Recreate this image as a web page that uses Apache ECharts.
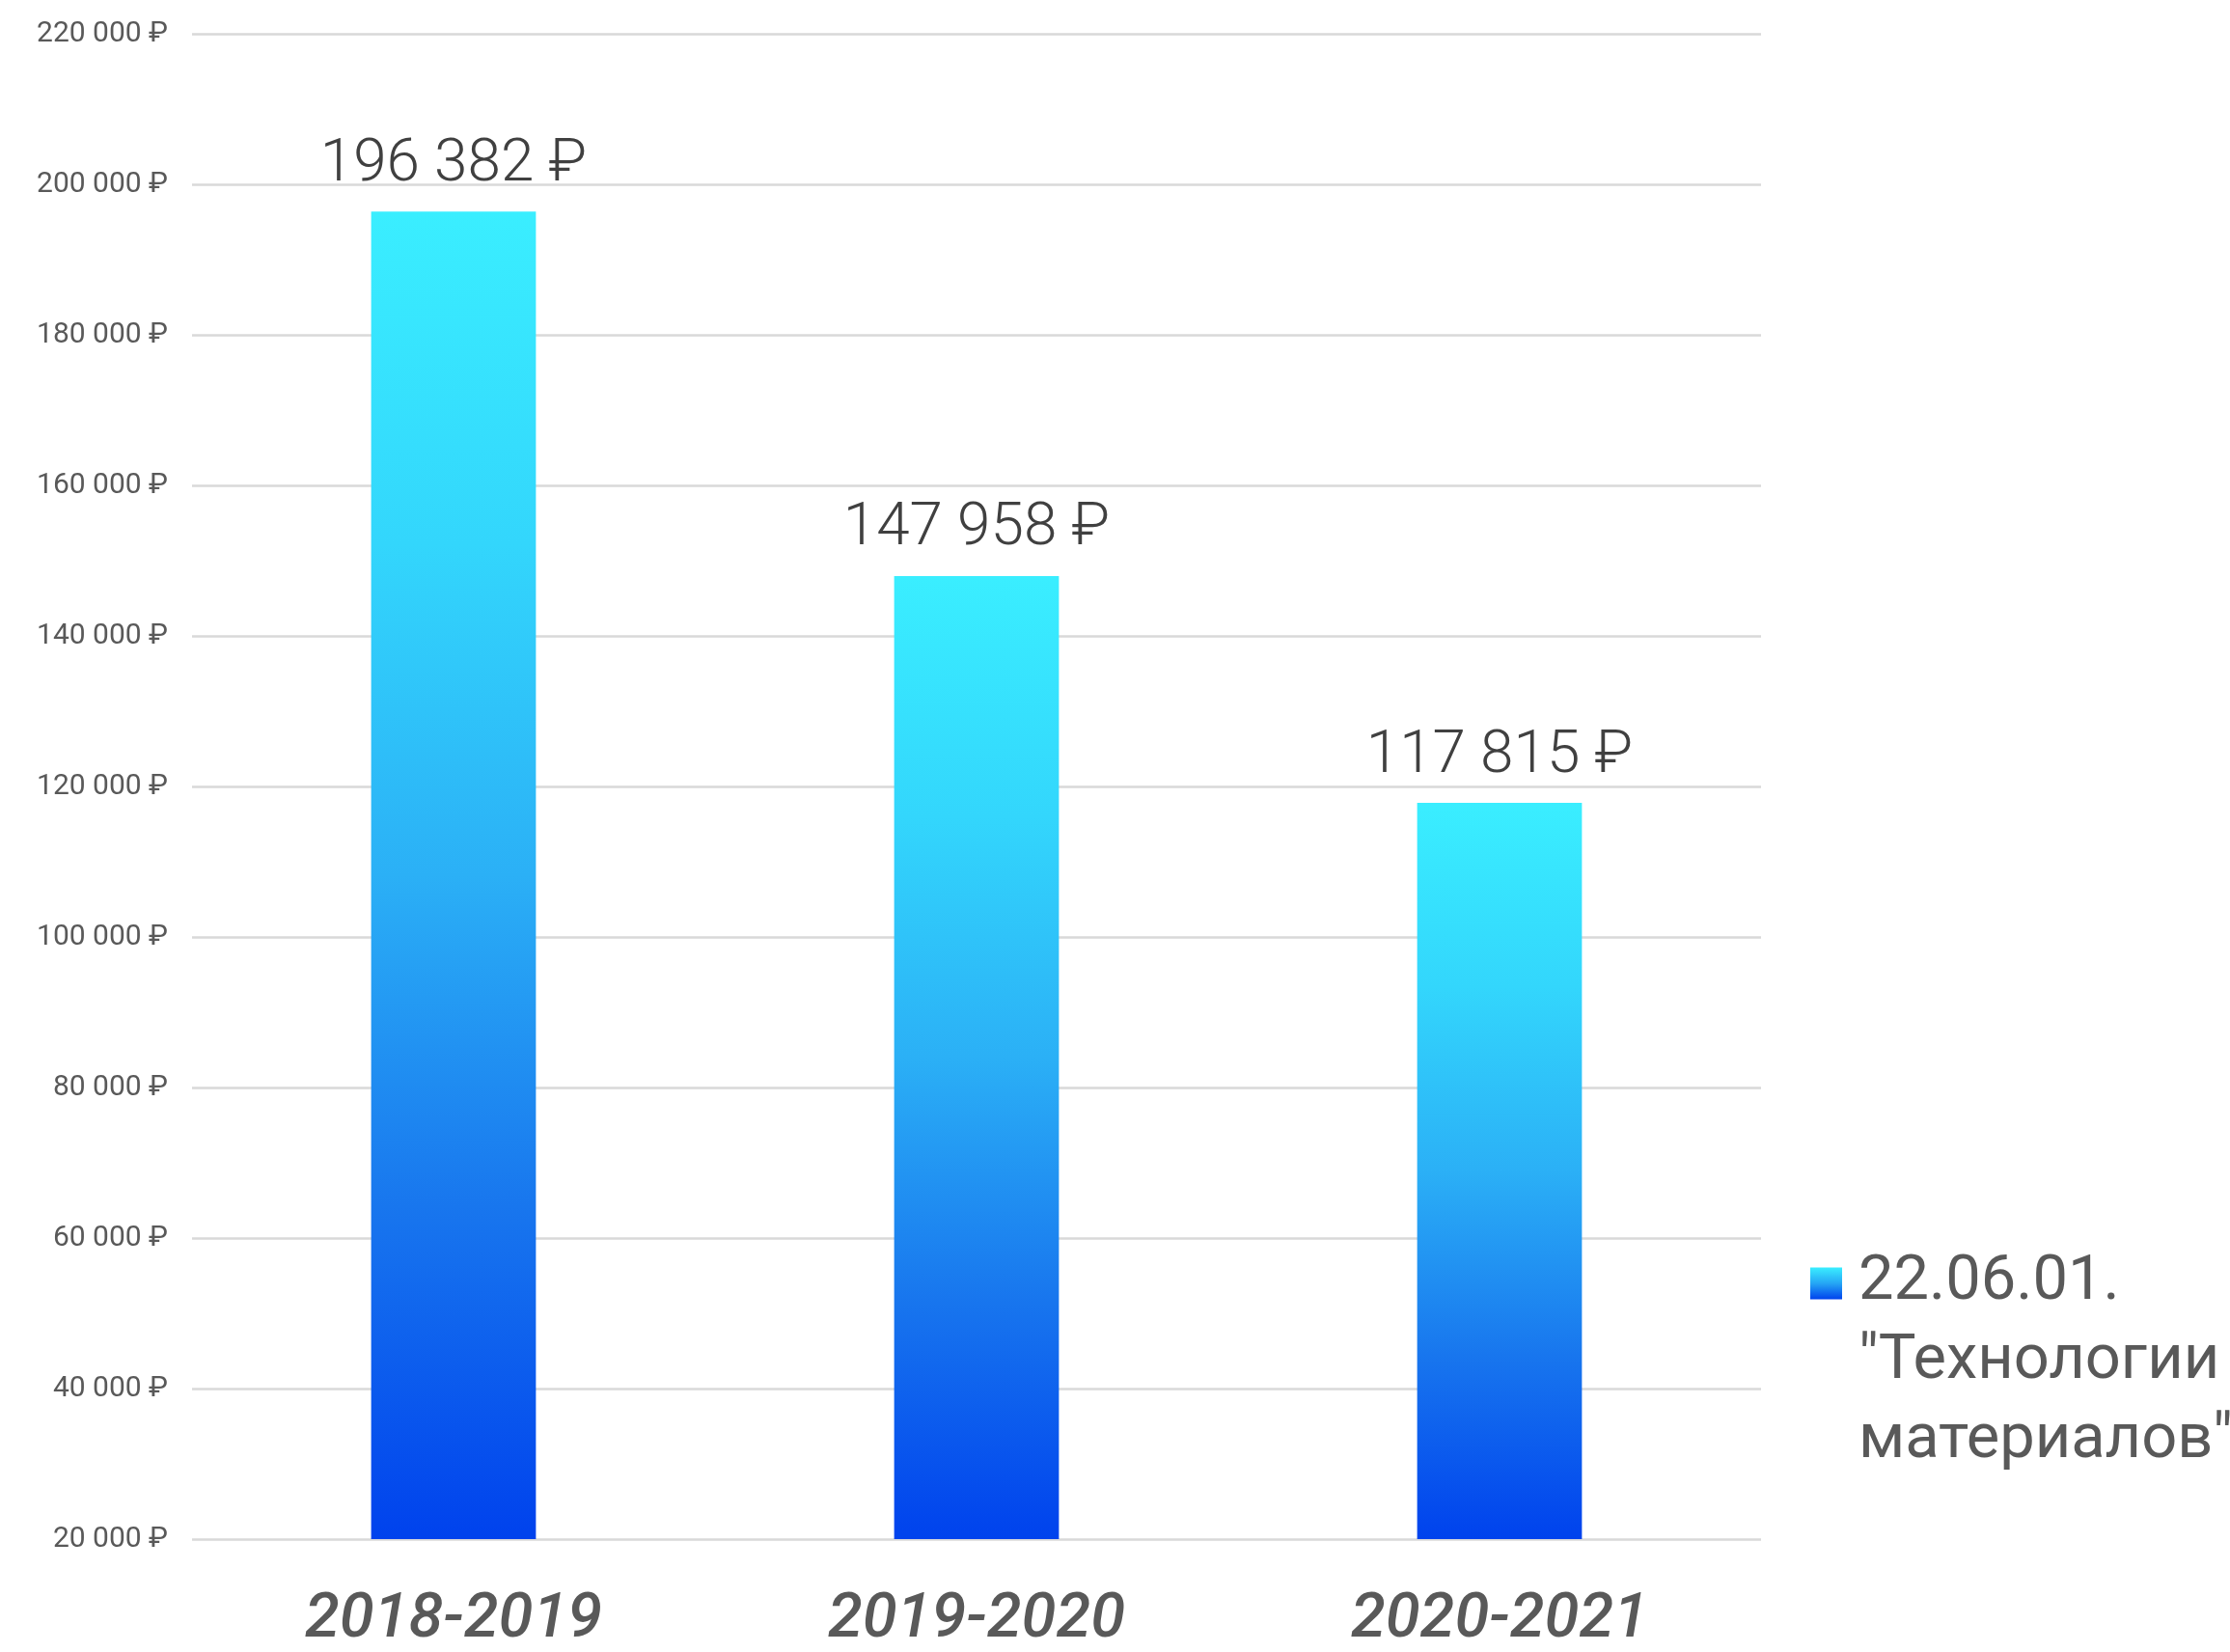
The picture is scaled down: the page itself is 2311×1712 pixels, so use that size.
<!DOCTYPE html>
<html>
<head>
<meta charset="utf-8">
<script src="https://cdn.jsdelivr.net/npm/echarts@6/dist/echarts.min.js"></script>
<style>
html,body{margin:0;padding:0;background:#fff;}
#chart{width:2311px;height:1712px;}
</style>
</head>
<body>
<div id="chart"></div>
<script>
const categories = ['2018-2019', '2019-2020', '2020-2021'];
const seriesName = '22.06.01. "Технологии материалов"';
const values = [196382, 147958, 117815];
const yMin = 20000;
const yMax = 220000;
const yStep = 20000;

function fmt(v) {
  return String(Math.round(v)).replace(/\B(?=(\d{3})+(?!\d))/g, ' ') + ' ₽';
}

const LH = 82;
const ICON = 33;
const boxH = 3 * LH;
const sqTop = LH / 2 - ICON / 2;
const sqBot = sqTop + ICON;
const iconPath = 'path://M0,0 L0.01,0 Z M0,' + sqTop + ' L' + ICON + ',' + sqTop + ' L' + ICON + ',' + sqBot +
  ' L0,' + sqBot + ' Z M0,' + boxH + ' L0.01,' + boxH + ' Z';

const chart = echarts.init(document.getElementById('chart'), null, {renderer: 'canvas'});
chart.setOption({
  animation: false,
  backgroundColor: '#ffffff',
  grid: {left: 199, right: 486, top: 35, bottom: 106, containLabel: false},
  legend: {
    show: true,
    left: 1876,
    top: 1289,
    padding: 0,
    orient: 'vertical',
    itemWidth: ICON,
    itemHeight: boxH,
    itemGap: 0,
    icon: iconPath,
    itemStyle: {
      color: new echarts.graphic.LinearGradient(0, 0, 0, 1, [
        {offset: 0, color: '#3AEEFF'},
        {offset: sqTop / boxH, color: '#3AEEFF'},
        {offset: (sqTop + ICON * 0.5) / boxH, color: '#25A6F5'},
        {offset: sqBot / boxH, color: '#0042ED'},
        {offset: 1, color: '#0042ED'}
      ])
    },
    formatter: function (name) { return name.split(' ').join('\n'); },
    textStyle: {
      fontFamily: 'Roboto',
      fontSize: 65,
      lineHeight: LH,
      color: '#595959',
      padding: [0, 0, 0, 12]
    }
  },
  xAxis: {
    type: 'category',
    data: categories,
    axisLine: {show: false},
    axisTick: {show: false},
    axisLabel: {
      margin: 52,
      fontFamily: 'Roboto',
      fontStyle: 'italic',
      fontWeight: 500,
      fontSize: 65,
      color: '#595959'
    }
  },
  yAxis: {
    type: 'value',
    min: yMin,
    max: yMax,
    interval: yStep,
    axisLine: {show: false},
    axisTick: {show: false},
    splitLine: {lineStyle: {color: '#D9D9D9', width: 2.5}},
    axisLabel: {
      margin: 25,
      fontFamily: 'Roboto',
      fontSize: 30,
      color: '#595959',
      formatter: fmt
    }
  },
  series: [{
    name: seriesName,
    type: 'bar',
    data: values,
    barWidth: '31.5%',
    itemStyle: {
      color: new echarts.graphic.LinearGradient(0, 0, 0, 1, [
        {offset: 0, color: '#3AEEFF'},
        {offset: 0.25, color: '#33D6FC'},
        {offset: 0.5, color: '#2BB0F6'},
        {offset: 0.75, color: '#1876EE'},
        {offset: 1, color: '#0042ED'}
      ])
    },
    label: {
      show: true,
      position: 'top',
      distance: 17,
      fontFamily: 'Roboto',
      fontWeight: 300,
      fontSize: 62,
      color: '#404040',
      formatter: function (p) { return fmt(p.value); }
    }
  }]
});
</script>
</body>
</html>
